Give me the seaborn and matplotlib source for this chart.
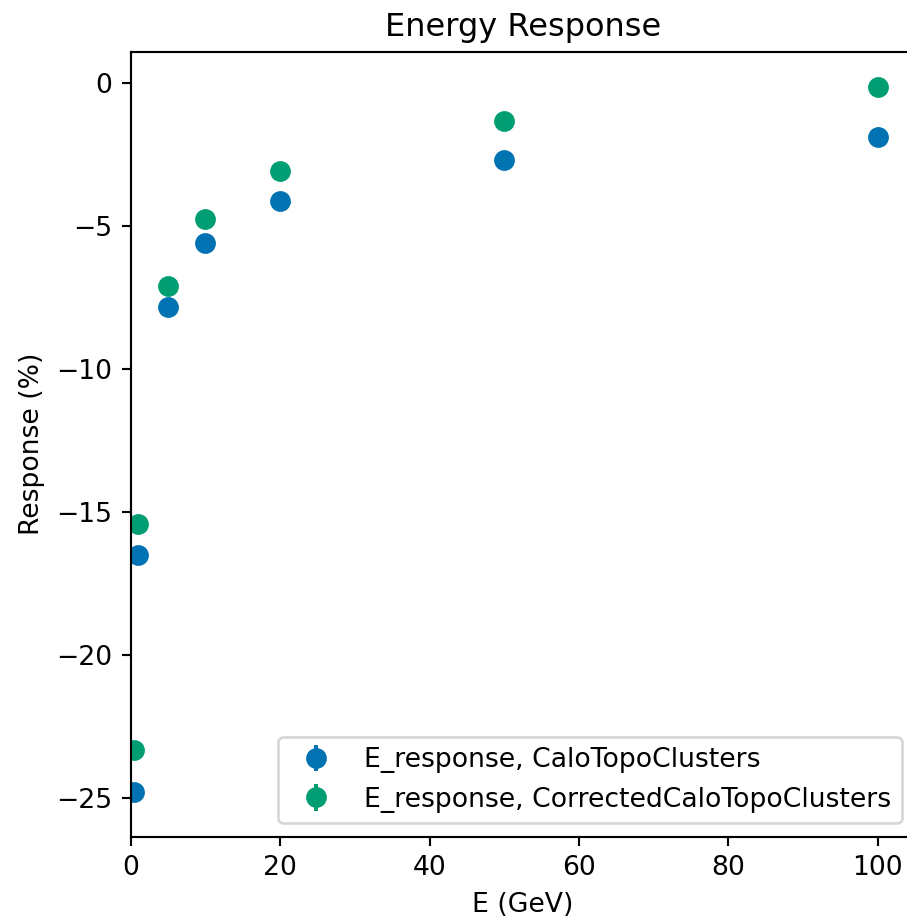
import matplotlib
matplotlib.use("Agg")
import matplotlib.pyplot as plt
import seaborn as sns

energies = [0.5, 1, 5, 10, 20, 50, 100]
resp_calo = [-24.79, -16.50, -7.84, -5.60, -4.12, -2.68, -1.87]
resp_corr = [-23.33, -15.42, -7.09, -4.75, -3.07, -1.31, -0.12]
err_calo = [0.1, 0.08, 0.05, 0.04, 0.03, 0.02, 0.02]
err_corr = [0.1, 0.08, 0.05, 0.04, 0.03, 0.02, 0.02]
labels = ["E_response, CaloTopoClusters", "E_response, CorrectedCaloTopoClusters"]

sns.set_palette("colorblind")
plt.rcParams["font.family"] = ["DejaVu Sans"]
pal = sns.color_palette("colorblind")

DPI = 192
fig = plt.figure(figsize=(907 / DPI, 920 / DPI), dpi=DPI)
ax = fig.add_axes([0.1441, 0.0905, 0.8646, 0.8533])

ax.errorbar(energies, resp_calo, yerr=err_calo, fmt="o", color=pal[0],
            markersize=6.8, label=labels[0])
ax.errorbar(energies, resp_corr, yerr=err_corr, fmt="o", color=pal[2],
            markersize=6.8, label=labels[1])

ax.set_xlim(0, 104.975)
ax.set_ylim(-26.36, 1.11)
ax.set_xticks([0, 20, 40, 60, 80, 100])
ax.set_yticks([0, -5, -10, -15, -20, -25])
ax.set_xlabel("E (GeV)")
ax.set_ylabel("Response (%)")
ax.set_title("Energy Response")
ax.legend(loc="lower right")

fig.savefig("out.png", dpi=DPI)
